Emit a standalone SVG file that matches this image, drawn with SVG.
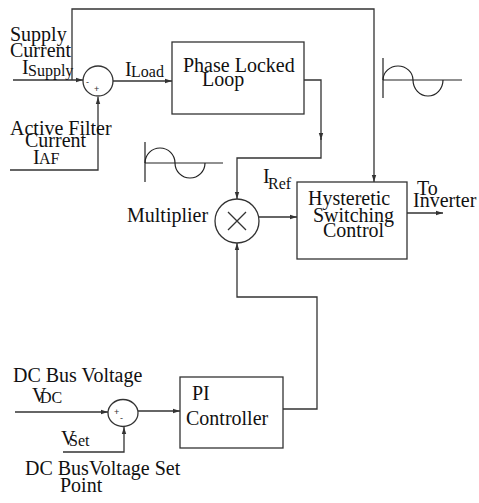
<svg xmlns="http://www.w3.org/2000/svg" width="479" height="503" viewBox="0 0 479 503">
<defs>
<marker id="ah" markerWidth="8" markerHeight="6" refX="7" refY="3" orient="auto" markerUnits="userSpaceOnUse">
<path d="M0,0.8 L7,3 L0,5.2 Z" fill="#333"/>
</marker>
<style>
.t{font-family:"Liberation Serif","Times New Roman",serif;font-size:20px;fill:#111}
.s{font-family:"Liberation Serif","Times New Roman",serif;font-size:16px;fill:#111}
.m{font-family:"Liberation Sans",Arial,sans-serif;font-size:9px;fill:#333}
.b{fill:#fff;stroke:#333;stroke-width:1.3}
.c{fill:none;stroke:#333;stroke-width:1.3}
.w{fill:none;stroke:#222;stroke-width:1.2}
</style>
</defs>
<rect width="479" height="503" fill="#fff"/>
<g id="connectors">
<path class="c" d="M13,80 H83" marker-end="url(#ah)"/>
<path class="c" d="M72,80 V9 H374 V182" marker-end="url(#ah)"/>
<path class="c" d="M10,170 H98 V97" marker-end="url(#ah)"/>
<path class="c" d="M113,81 H172" marker-end="url(#ah)"/>
<path class="c" d="M304,80 H321 V140" marker-end="url(#ah)"/>
<path class="c" d="M321,138 V158 H237 V199" marker-end="url(#ah)"/>
<path class="c" d="M259,217 H297" marker-end="url(#ah)"/>
<path class="c" d="M407,213 H443" marker-end="url(#ah)"/>
<path class="c" d="M283,409 H317 V297 H237 V243" marker-end="url(#ah)"/>
<path class="c" d="M15,412 H108" marker-end="url(#ah)"/>
<path class="c" d="M138,411 H180" marker-end="url(#ah)"/>
<path class="c" d="M63,452 H124 V427" marker-end="url(#ah)"/>
</g>
<g id="sum1">
<circle class="b" cx="98" cy="81" r="15"/>
<text class="m" x="86" y="85">-</text>
<text class="m" x="94" y="92">+</text>
</g>
<g id="pll">
<rect class="b" x="172" y="42" width="132" height="72"/>
<text class="t" x="183" y="72">Phase Locked</text>
<text class="t" x="202" y="86">Loop</text>
</g>
<g id="multiplier">
<circle class="b" cx="237" cy="221" r="22"/>
<path class="c" d="M228,212 L246,230 M246,212 L228,230"/>
<text class="t" x="127" y="222">Multiplier</text>
</g>
<g id="hysteretic">
<rect class="b" x="297" y="182" width="110" height="77"/>
<text class="t" x="308" y="205">Hysteretic</text>
<text class="t" x="313" y="222">Switching</text>
<text class="t" x="323" y="237">Control</text>
</g>
<g id="pi">
<rect class="b" x="180" y="377" width="103" height="71"/>
<text class="t" x="192" y="400">PI</text>
<text class="t" x="186" y="425">Controller</text>
</g>
<g id="sum2">
<ellipse class="b" cx="123" cy="413" rx="15" ry="13.5"/>
<text class="m" x="114" y="415">+</text>
<text class="m" x="120" y="421">-</text>
</g>
<g id="labels">
<text class="t" x="10" y="41">Supply</text>
<text class="t" x="10" y="57">Current</text>
<text class="t" x="22" y="74">I</text><text class="s" x="28" y="76">Supply</text>
<text class="t" x="10" y="135">Active Filter</text>
<text class="t" x="25" y="147">Current</text>
<text class="t" x="33" y="164">I</text><text class="s" x="39" y="164">AF</text>
<text class="t" x="125" y="76">I</text><text class="s" x="131" y="77">Load</text>
<text class="t" x="263" y="183">I</text><text class="s" x="268" y="189">Ref</text>
<text class="t" x="417" y="195">To</text>
<text class="t" x="413" y="207">Inverter</text>
<text class="t" x="13" y="382">DC Bus Voltage</text>
<text class="t" x="32" y="402">V</text><text class="s" x="40" y="403">DC</text>
<text class="t" x="61" y="445">V</text><text class="s" x="69" y="446">Set</text>
<text class="t" x="25" y="475">DC BusVoltage Set</text>
<text class="t" x="60" y="492">Point</text>
</g>
<g id="wave-left">
<path class="w" d="M145,142 V182 M145,163 H223"/>
<path class="w" d="M145,163 A15,15 0 0 1 175,163 A15,15 0 0 0 205,163"/>
</g>
<g id="wave-right">
<path class="w" d="M383,58 V98 M383,80 H462"/>
<path class="w" d="M383,80 A15,14 0 0 1 413,80 A15,16 0 0 0 443,80"/>
</g>
</svg>
